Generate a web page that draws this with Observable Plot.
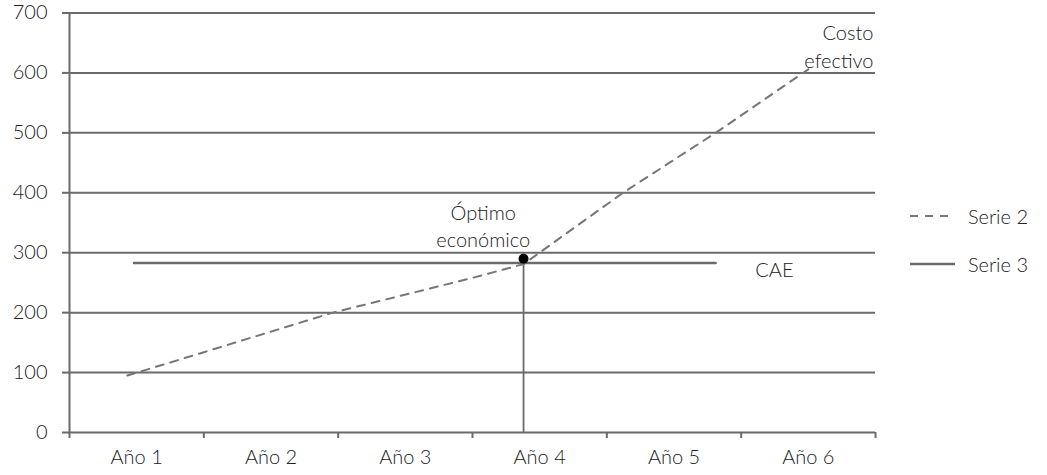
<!DOCTYPE html>
<html><head><meta charset="utf-8">
<script src="https://cdn.jsdelivr.net/npm/d3@7"></script>
<script src="https://cdn.jsdelivr.net/npm/@observablehq/plot@0.6"></script>
<style>
body{margin:0;background:#fff;font-family:Lato,sans-serif;}
#wrap{position:relative;width:1047px;height:475px;}
#legend{position:absolute;left:0;top:0;font:300 20px Lato,sans-serif;color:#222}
.item{position:absolute;display:flex;align-items:center;white-space:nowrap;height:24px}
.item svg{margin-right:13px}
svg text{font-weight:300}
</style></head><body><div id="wrap"><div id="chart"></div><div id="legend"></div></div>
<script>
const categories = ["Año 1", "Año 2", "Año 3", "Año 4", "Año 5", "Año 6"];
const yTicks = [0, 100, 200, 300, 400, 500, 600, 700];
// Serie 2 (costo efectivo), x in year units
const serie2X = [0.93, 1.5, 2.46, 3.5, 3.88, 4.62, 5.31, 6.0];
const serie2Y = [95, 134, 200, 258, 281, 400, 500, 606];
// Serie 3 (CAE)
const serie3X = [0.98, 5.31];
const serie3Y = [283, 283];
// Óptimo económico
const optimoX = [3.88];
const optimoY = [290];
const legendNames = ["Serie 2", "Serie 3"];

const grey = "#6b6b6b";
const ink = "#222";
const s2 = serie2X.map((x, i) => ({x, y: serie2Y[i]}));
const s3 = serie3X.map((x, i) => ({x, y: serie3Y[i]}));
const opt = optimoX.map((x, i) => ({x, y: optimoY[i]}));
const centers = categories.map((c, i) => i + 1);
const bounds = d3.range(categories.length + 1).map(i => i + 0.5);

const chart = Plot.plot({
  width: 1047, height: 475,
  marginLeft: 69, marginRight: 172, marginTop: 12.5, marginBottom: 43,
  style: {fontFamily: "Lato, sans-serif", fontSize: "20px", color: ink, background: "#fff"},
  x: {domain: [0.5, 6.5], axis: null},
  y: {domain: [0, 700], axis: null},
  marks: [
    Plot.ruleY(yTicks, {stroke: grey, strokeWidth: 2}),
    Plot.axisY({ticks: yTicks, tickSize: 7, tickPadding: 15, stroke: grey, strokeWidth: 2, fill: ink, fontSize: 20, label: null}),
    Plot.ruleX([0.5], {y1: 0, y2: 700, stroke: grey, strokeWidth: 2}),
    Plot.axisX({ticks: bounds, tickSize: 6, tickFormat: () => "", stroke: grey, strokeWidth: 2, label: null}),
    Plot.axisX({ticks: centers, tickSize: 0, tickPadding: 17, tickFormat: d => categories[d - 1], fill: ink, fontSize: 20, label: null}),
    Plot.ruleX(opt, {x: "x", y1: 0, y2: "y", stroke: grey, strokeWidth: 1.8}),
    Plot.line(s3, {x: "x", y: "y", stroke: grey, strokeWidth: 2.5}),
    Plot.line(s2, {x: "x", y: "y", stroke: "#777", strokeWidth: 2, strokeDasharray: "8,7"}),
    Plot.dot(opt, {x: "x", y: "y", r: 5, fill: "#000"}),
    Plot.text(["Óptimo\neconómico"], {x: 3.58, y: 309, lineAnchor: "bottom", lineHeight: 1.38, fill: ink, fontSize: 20}),
    Plot.text(["Costo\nefectivo"], {x: 6.5, y: 609, dx: -2, textAnchor: "end", lineAnchor: "bottom", lineHeight: 1.4, fill: ink, fontSize: 20}),
    Plot.text(["CAE"], {x: 5.605, y: 259, textAnchor: "start", lineAnchor: "bottom", fill: ink, fontSize: 20})
  ]
});
document.getElementById("chart").appendChild(chart);

const legend = document.getElementById("legend");
const styles = [{dash: "8,7", color: "#777", w: 2}, {dash: null, color: grey, w: 2.5}];
const tops = [204, 252];
legendNames.forEach((name, i) => {
  const item = document.createElement("div");
  item.className = "item";
  item.style.left = "910px";
  item.style.top = tops[i] + "px";
  const st = styles[i];
  item.innerHTML = `<svg width="45" height="10"><line x1="0" x2="45" y1="5" y2="5" stroke="${st.color}" stroke-width="${st.w}" ${st.dash ? `stroke-dasharray="${st.dash}"` : ""}/></svg><span>${name}</span>`;
  legend.appendChild(item);
});
</script></body></html>
